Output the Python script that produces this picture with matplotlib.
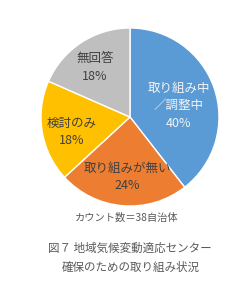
import matplotlib
matplotlib.use("Agg")
import matplotlib.pyplot as plt
import numpy as np

plt.rcParams['font.family'] = ['Noto Sans CJK JP', 'DejaVu Sans']

# data
labels = ['取り組み中\n／調整中', '取り組みが無い', '検討のみ', '無回答']
counts = [15, 9, 7, 7]
pct_text = ['40%', '24%', '18%', '18%']
colors = ['#5B9BD5', '#ED7D31', '#FFC000', '#BFBFBF']
text_colors = ['#F2F2F2', '#404040', '#404040', '#404040']
count_note = 'カウント数＝38自治体'
caption = '図７ 地域気候変動適応センター\n確保のための取り組み状況'

fig = plt.figure(figsize=(2.53, 2.86), dpi=100)
ax = fig.add_axes([0.162, 0.2797, 0.7036, 0.6224])
wedges, _ = ax.pie(counts, colors=colors, startangle=90, counterclock=False,
                   wedgeprops=dict(edgecolor='white', linewidth=1.0))
ax.set_xlim(-1, 1)
ax.set_ylim(-1, 1)
ax.set_aspect('equal')
ax.axis('off')

# label offsets (radius, angle shift) per wedge
lab_r = [0.56, 0.67, 0.68, 0.68]
lab_shift = [-6, 2, 5, 2]
for w, lab, p, tc, r, s in zip(wedges, labels, pct_text, text_colors, lab_r, lab_shift):
    ang = np.deg2rad((w.theta1 + w.theta2) / 2 + s)
    x, y = r * np.cos(ang), r * np.sin(ang)
    ax.text(x, y, lab + '\n' + p, ha='center', va='center', color=tc,
            fontsize=9, linespacing=1.45)

fig.text(0.50, 1 - 218 / 286, count_note, ha='center', va='center',
         fontsize=7.4, color='#595959')
fig.text(0.515, 1 - 258 / 286, caption, ha='center', va='center',
         fontsize=8.3, color='#595959', linespacing=1.55)

fig.savefig('out.png', dpi=100)
